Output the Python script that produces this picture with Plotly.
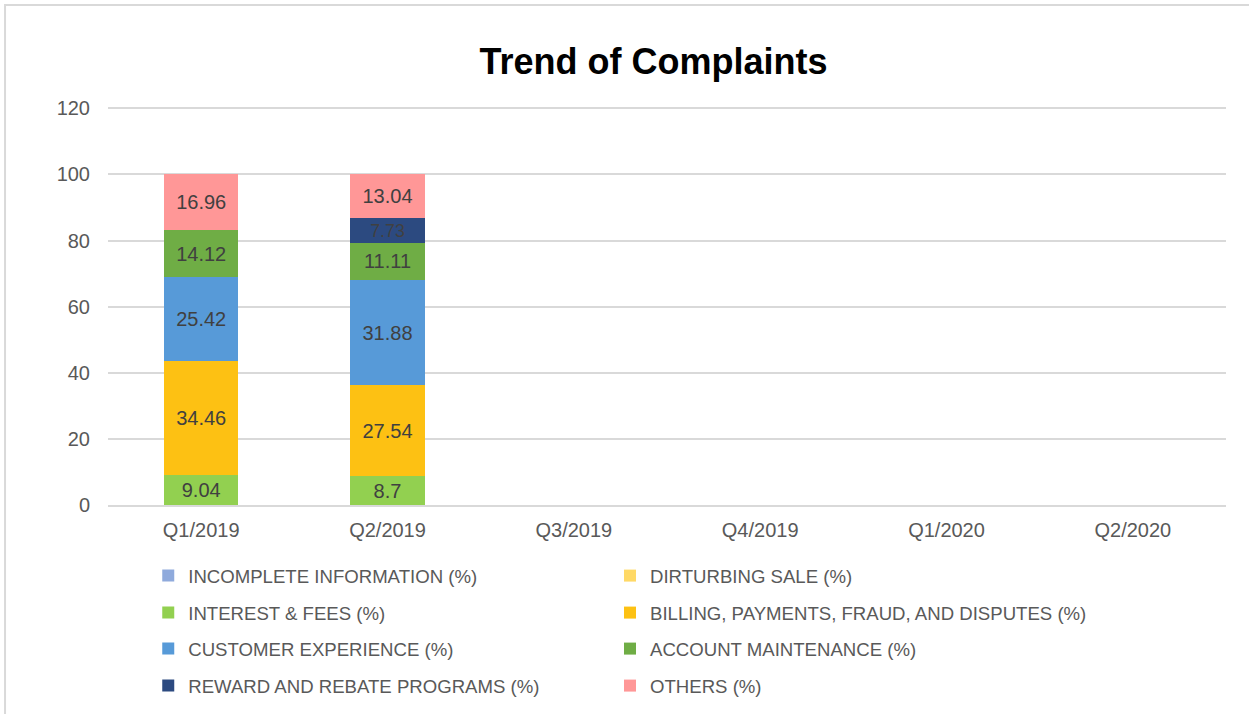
import plotly.graph_objects as go

# Quarterly complaint mix (percent of all complaints per quarter)
quarters = ["Q1/2019", "Q2/2019", "Q3/2019", "Q4/2019", "Q1/2020", "Q2/2020"]

incomplete_information = [None, None, None, None, None, None]
dirturbing_sale = [None, None, None, None, None, None]
interest_fees = [9.04, 8.7, None, None, None, None]
billing_payments = [34.46, 27.54, None, None, None, None]
customer_experience = [25.42, 31.88, None, None, None, None]
account_maintenance = [14.12, 11.11, None, None, None, None]
reward_rebate = [None, 7.73, None, None, None, None]
others = [16.96, 13.04, None, None, None, None]

y_ticks = [0, 20, 40, 60, 80, 100, 120]

series = [
    ("INCOMPLETE INFORMATION (%)", incomplete_information, "#8FAADC"),
    ("DIRTURBING SALE (%)", dirturbing_sale, "#FFD966"),
    ("INTEREST & FEES (%)", interest_fees, "#92D050"),
    ("BILLING, PAYMENTS, FRAUD, AND DISPUTES (%)", billing_payments, "#FDC113"),
    ("CUSTOMER EXPERIENCE (%)", customer_experience, "#579AD8"),
    ("ACCOUNT MAINTENANCE (%)", account_maintenance, "#6FAD45"),
    ("REWARD AND REBATE PROGRAMS (%)", reward_rebate, "#2C4A80"),
    ("OTHERS (%)", others, "#FF9797"),
]

FONT = "Liberation Sans, Arial, sans-serif"

# One legend per entry, arranged as a 2-column grid below the plot
legend_ids = ["legend"] + [f"legend{i}" for i in range(2, 9)]
col_x = [0.036, 0.449]
row_y = [-0.1775, -0.27, -0.36, -0.4525]

fig = go.Figure()
for i, (name, vals, color) in enumerate(series):
    fig.add_trace(go.Bar(
        name=name,
        x=quarters,
        y=vals,
        marker=dict(color=color, line=dict(width=0)),
        text=[("" if v is None else f"{v:g}") for v in vals],
        textposition="inside",
        insidetextanchor="middle",
        textangle=0,
        textfont=dict(family=FONT, size=20, color="#404040"),
        width=0.4,
        legend=legend_ids[i],
        showlegend=True,
        hoverinfo="name+y",
    ))

legend_layout = {}
for i, lid in enumerate(legend_ids):
    legend_layout[lid] = dict(
        orientation="h",
        x=col_x[i % 2],
        y=row_y[i // 2],
        xanchor="left",
        yanchor="middle",
        font=dict(family=FONT, size=18.6, color="#595959"),
        bgcolor="rgba(0,0,0,0)",
        visible=True,
    )

fig.update_layout(
    barmode="stack",
    showlegend=True,
    width=1249,
    height=714,
    margin=dict(l=108, r=23, t=105, b=209, autoexpand=False),
    paper_bgcolor="white",
    plot_bgcolor="white",
    title=dict(
        text="<b>Trend of Complaints</b>",
        x=0.488,
        xref="paper",
        xanchor="center",
        y=0.914,
        yanchor="middle",
        font=dict(family=FONT, size=36, color="#000000"),
    ),
    xaxis=dict(
        type="category",
        categoryorder="array",
        categoryarray=quarters,
        range=[-0.5, 5.5],
        showgrid=False,
        showline=True,
        linecolor="#D9D9D9",
        linewidth=2,
        ticks="",
        tickfont=dict(family=FONT, size=20, color="#595959"),
        ticklabelstandoff=6,
    ),
    yaxis=dict(
        range=[0, 121],
        tickvals=y_ticks,
        showgrid=True,
        gridcolor="#D9D9D9",
        gridwidth=1.5,
        zeroline=False,
        showline=False,
        ticks="",
        tickfont=dict(family=FONT, size=20, color="#595959"),
        ticklabelstandoff=17,
    ),
    shapes=[
        # chart frame
        dict(type="rect", xref="paper", yref="paper",
             x0=-0.0921, x1=1.03, y0=-0.6, y1=1.25,
             line=dict(color="#D9D9D9", width=2), fillcolor="rgba(0,0,0,0)",
             layer="below"),
    ],
    **legend_layout,
)

fig.write_html("out.html")
